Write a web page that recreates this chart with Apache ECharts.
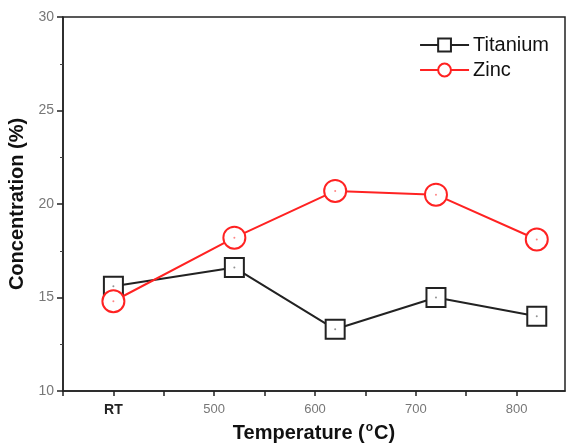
<!DOCTYPE html>
<html>
<head>
<meta charset="utf-8">
<script src="https://cdn.jsdelivr.net/npm/echarts@6/dist/echarts.min.js"></script>
<style>
  html, body { margin: 0; padding: 0; background: #fff; }
  #chart { width: 566px; height: 444px; }
</style>
</head>
<body>
<div id="chart"></div>
<script>
// temperature of each sample; RT is drawn at 400
const temps = [400, 520, 620, 720, 820]
const titanium = [15.6, 16.6, 13.3, 15.0, 14.0]
const zinc = [14.8, 18.2, 20.7, 20.5, 18.1]
const xTickLabels = { 400: 'RT', 500: '500', 600: '600', 700: '700', 800: '800' }

const chart = echarts.init(document.getElementById('chart'))

const pair = (vals) => temps.map((t, i) => [t, vals[i]])

const option = {
  animation: false,
  textStyle: { fontFamily: 'Liberation Sans, Arial, sans-serif' },
  grid: {
    left: 63, right: 1, top: 17, bottom: 53,
    outerBoundsMode: 'none',
    show: true, borderColor: '#222', borderWidth: 1.5
  },
  legend: {
    right: 12, top: 30,
    orient: 'vertical',
    itemWidth: 49, itemHeight: 16, itemGap: 5,
    textStyle: { fontSize: 20, color: '#111', padding: [0, 0, 0, -1] },
    data: ['Titanium', 'Zinc']
  },
  xAxis: {
    type: 'value',
    min: 350, max: 848, interval: 50,
    name: 'Temperature ({sup|o}C)',
    nameLocation: 'middle',
    nameGap: 30,
    nameTextStyle: {
      fontSize: 20, fontWeight: 'bold', color: '#111',
      rich: {
        sup: { fontSize: 12, fontWeight: 'bold', color: '#111', verticalAlign: 'top', padding: [0, 1, 12, 1] }
      }
    },
    splitLine: { show: false },
    axisLine: { lineStyle: { color: '#222', width: 1.5 } },
    axisTick: { inside: false, length: 5, lineStyle: { color: '#222', width: 1.5 } },
    axisLabel: {
      margin: 12,
      fontSize: 13,
      color: '#777',
      showMaxLabel: false,
      formatter: v => v === 400 ? '{rt|RT}' : (xTickLabels[v] || ''),
      rich: { rt: { fontSize: 14, fontWeight: 'bold', color: '#222' } }
    }
  },
  yAxis: {
    type: 'value',
    min: 10, max: 30, interval: 5,
    name: 'Concentration (%)',
    nameLocation: 'middle',
    nameGap: 35,
    nameTextStyle: { fontSize: 20, fontWeight: 'bold', color: '#111' },
    splitLine: { show: false },
    axisLine: { show: true, lineStyle: { color: '#222', width: 1.5 } },
    axisTick: { show: true, inside: false, length: 6, lineStyle: { color: '#222', width: 1.5 } },
    minorTick: { show: true, splitNumber: 2, length: 3, lineStyle: { color: '#444', width: 1 } },
    axisLabel: { margin: 9, fontSize: 14, color: '#777' }
  },
  series: [
    {
      name: 'Titanium',
      type: 'line',
      data: pair(titanium),
      symbol: 'rect',
      symbolSize: 19,
      color: '#222',
      lineStyle: { color: '#222', width: 2 },
      itemStyle: { color: '#fff', borderColor: '#222', borderWidth: 2 }
    },
    {
      name: 'Zinc',
      type: 'line',
      data: pair(zinc),
      symbol: 'circle',
      symbolSize: 22,
      color: '#f22',
      lineStyle: { color: '#f22', width: 2 },
      itemStyle: { color: '#fff', borderColor: '#f22', borderWidth: 2 }
    },
    // tiny centre dots inside the markers
    {
      name: 'Ti dot', type: 'scatter', silent: true, z: 5,
      data: pair(titanium), symbol: 'circle', symbolSize: 2,
      itemStyle: { color: '#777' }
    },
    {
      name: 'Zn dot', type: 'scatter', silent: true, z: 5,
      data: pair(zinc), symbol: 'circle', symbolSize: 2,
      itemStyle: { color: '#f66' }
    }
  ]
}

chart.setOption(option)
</script>
</body>
</html>
